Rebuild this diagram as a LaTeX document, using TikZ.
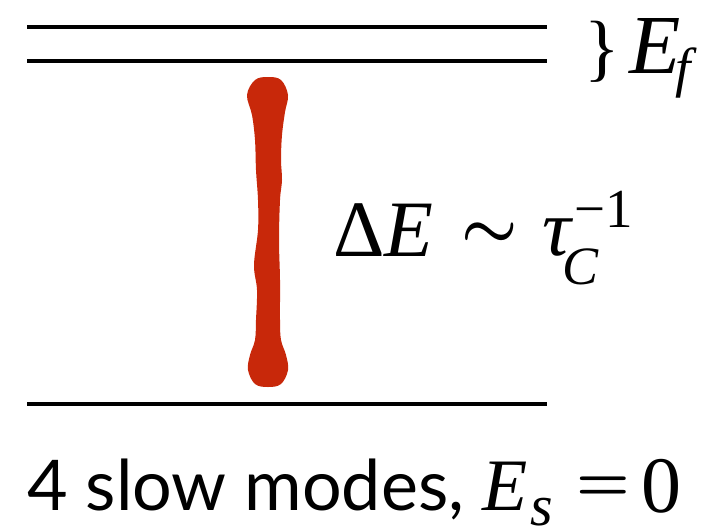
\documentclass[tikz,border=0pt]{standalone}
\usepackage{amsmath}
\usepackage{fontspec}
\setmainfont{Lato}
\newfontfamily\tms{Liberation Serif}
\definecolor{blobred}{RGB}{200,40,10}
\begin{document}
\begin{tikzpicture}[x=1pt,y=-1pt,
  level/.style={line width=4pt, black},
  lbl/.style={inner sep=0pt, anchor=base west},
]
\useasboundingbox (0,0) rectangle (706,530);
% energy levels
\coordinate (f1a) at (27,27);  \coordinate (f1b) at (547,27);
\coordinate (f2a) at (27,61);  \coordinate (f2b) at (547,61);
\coordinate (s1a) at (27,404); \coordinate (s1b) at (547,404);
\draw[level] (f1a) -- (f1b);
\draw[level] (f2a) -- (f2b);
\draw[level] (s1a) -- (s1b);
% red blob
\fill[blobred] plot[smooth cycle, tension=0.6] coordinates {
  (268,77) (281,80) (288,95) (285,112) (282,135) (281,160) (282,180)
  (280,200) (279,240) (280,280) (280,320) (281,340) (286,355) (288,370)
  (281,384) (268,387) (255,384) (248,370) (250,355) (255,340) (256,320)
  (257,290) (254,265) (258,230) (258,200) (256,170) (255,140) (252,115) (247,95) (255,80)
};
% labels
\node[lbl] (brace) at (584,72) {\fontsize{74}{74}\tms\}};
\node[lbl] (ef) at (629,73) {\fontsize{84}{84}\tms\itshape E};
\node[lbl] (efsub) at (675,86) {\fontsize{55}{55}\tms\itshape f};
\node[lbl] (de) at (333,256) {\fontsize{80}{80}\tms Δ\textit{E}};
\node[inner sep=0pt] (sim) at (490,235) {\scalebox{6.3}{$\boldsymbol{\sim}$}};
\node[lbl] (tau) at (542,255) {\fontsize{80}{80}\tms\itshape τ};
\node[lbl] (csub) at (562,284) {\fontsize{54}{54}\tms\itshape C};
\node[lbl] (sup) at (574,227) {\fontsize{55}{55}\tms −1};
\node[lbl] (slow) at (27,510) {\fontsize{70}{70}\selectfont 4 slow modes,};
\node[lbl] (es) at (482,510) {\fontsize{74}{74}\tms\itshape E};
\node[lbl] (essub) at (530,525) {\fontsize{58}{58}\tms\itshape s};
\node[inner sep=0pt] (eq) at (603,489) {\scalebox{6}{$\boldsymbol{=}$}};
\node[lbl] (zero) at (641,512) {\fontsize{80}{80}\tms 0};
\end{tikzpicture}
\end{document}
